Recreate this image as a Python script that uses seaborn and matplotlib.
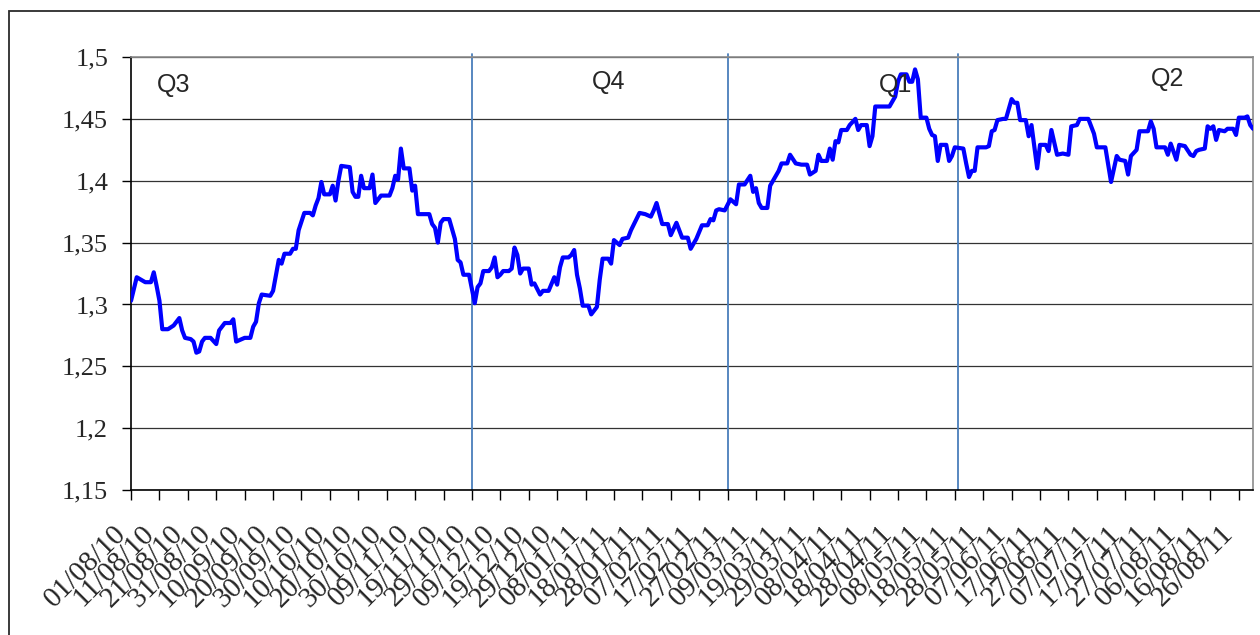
import matplotlib
matplotlib.use('Agg')
import matplotlib.pyplot as plt
import matplotlib.dates as mdates
import matplotlib.ticker as mticker
from matplotlib.patches import Rectangle
import numpy as np
import pandas as pd
import seaborn as sns

### day offsets from 01/08/10 and the rate
start = pd.Timestamp('2010-08-01')
days = [0, 2, 5, 7, 8, 9, 10, 11, 13, 15,
        17, 18, 19, 21, 22, 23, 24, 25, 26, 28,
        30, 31, 33, 35, 36, 37, 40, 42, 43, 44,
        45, 46, 49, 50, 52, 53, 54, 56, 57, 58,
        59, 61, 63, 64, 65, 66, 67, 68, 70, 71,
        72, 73, 74, 77, 78, 79, 80, 81, 82, 84,
        85, 86, 88, 91, 92, 93, 94, 95, 96, 98,
        99, 100, 101, 105, 106, 107, 108, 109, 110, 112,
        114, 115, 116, 117, 119, 121, 122, 123, 124, 126,
        127, 128, 129, 130, 131, 133, 134, 135, 136, 137,
        138, 140, 141, 142, 144, 145, 147, 149, 150, 151,
        152, 154, 155, 156, 157, 158, 159, 161, 162, 164,
        165, 166, 168, 169, 170, 172, 173, 175, 176, 179,
        181, 183, 184, 185, 187, 189, 190, 192, 194, 196,
        197, 198, 199, 201, 203, 204, 205, 206, 207, 209,
        211, 213, 214, 216, 218, 219, 220, 221, 222, 224,
        225, 226, 228, 229, 231, 232, 234, 236, 238, 239,
        241, 242, 243, 245, 246, 247, 248, 249, 250, 252,
        253, 255, 256, 257, 259, 260, 261, 262, 267, 269,
        270, 271, 273, 274, 275, 276, 277, 278, 280, 281,
        282, 283, 284, 285, 287, 288, 289, 290, 293, 294,
        295, 296, 297, 298, 301, 302, 303, 304, 305, 307,
        308, 310, 311, 312, 313, 315, 316, 317, 319, 320,
        322, 323, 324, 326, 328, 330, 331, 333, 334, 337,
        339, 340, 343, 345, 347, 348, 350, 351, 352, 354,
        355, 358, 359, 360, 361, 364, 365, 366, 368, 369,
        371, 373, 374, 375, 376, 378, 379, 380, 381, 382,
        383, 385, 386, 388, 389, 390, 392, 393, 394, 395]
rate = [1.303, 1.322, 1.318, 1.318, 1.326, 1.315, 1.303, 1.280, 1.280, 1.283,
        1.289, 1.279, 1.273, 1.272, 1.270, 1.261, 1.262, 1.270, 1.273, 1.273,
        1.268, 1.279, 1.285, 1.285, 1.288, 1.270, 1.273, 1.273, 1.282, 1.286,
        1.301, 1.308, 1.307, 1.311, 1.336, 1.333, 1.341, 1.341, 1.345, 1.345,
        1.360, 1.374, 1.374, 1.372, 1.380, 1.386, 1.399, 1.389, 1.389, 1.396,
        1.384, 1.400, 1.412, 1.411, 1.391, 1.387, 1.387, 1.404, 1.394, 1.394,
        1.405, 1.382, 1.388, 1.388, 1.394, 1.404, 1.401, 1.426, 1.410, 1.410,
        1.392, 1.396, 1.373, 1.373, 1.365, 1.362, 1.350, 1.366, 1.369, 1.369,
        1.353, 1.336, 1.334, 1.324, 1.324, 1.301, 1.314, 1.317, 1.327, 1.327,
        1.330, 1.338, 1.322, 1.324, 1.327, 1.327, 1.329, 1.346, 1.340, 1.325,
        1.329, 1.329, 1.316, 1.317, 1.308, 1.311, 1.311, 1.322, 1.316, 1.330,
        1.338, 1.338, 1.340, 1.344, 1.324, 1.313, 1.299, 1.299, 1.292, 1.298,
        1.320, 1.337, 1.337, 1.333, 1.352, 1.348, 1.353, 1.354, 1.360, 1.374,
        1.373, 1.371, 1.376, 1.382, 1.365, 1.365, 1.356, 1.366, 1.354, 1.354,
        1.345, 1.349, 1.353, 1.364, 1.364, 1.369, 1.368, 1.376, 1.377, 1.376,
        1.385, 1.381, 1.397, 1.397, 1.404, 1.391, 1.394, 1.382, 1.378, 1.378,
        1.396, 1.400, 1.408, 1.414, 1.414, 1.421, 1.414, 1.413, 1.413, 1.405,
        1.408, 1.421, 1.416, 1.416, 1.426, 1.417, 1.432, 1.431, 1.441, 1.441,
        1.445, 1.450, 1.441, 1.445, 1.445, 1.428, 1.436, 1.460, 1.460, 1.468,
        1.480, 1.486, 1.486, 1.480, 1.480, 1.490, 1.482, 1.451, 1.451, 1.442,
        1.437, 1.436, 1.416, 1.429, 1.429, 1.416, 1.420, 1.427, 1.426, 1.414,
        1.403, 1.408, 1.408, 1.427, 1.427, 1.428, 1.440, 1.441, 1.449, 1.450,
        1.450, 1.466, 1.463, 1.463, 1.449, 1.449, 1.436, 1.445, 1.410, 1.429,
        1.429, 1.424, 1.441, 1.421, 1.422, 1.421, 1.444, 1.445, 1.450, 1.450,
        1.438, 1.427, 1.427, 1.399, 1.420, 1.417, 1.416, 1.405, 1.420, 1.425,
        1.440, 1.440, 1.448, 1.442, 1.427, 1.427, 1.421, 1.430, 1.417, 1.429,
        1.428, 1.421, 1.420, 1.424, 1.425, 1.426, 1.444, 1.442, 1.444, 1.433,
        1.441, 1.440, 1.442, 1.442, 1.437, 1.451, 1.451, 1.452, 1.445, 1.442]

quarter_labels = ['Q3', 'Q4', 'Q1', 'Q2']
quarter_breaks = ['2010-11-29', '2011-02-27', '2011-05-19']
y_ticks = [1.15, 1.2, 1.25, 1.3, 1.35, 1.4, 1.45, 1.5]

df = pd.DataFrame({'date': start + pd.to_timedelta(days, unit='D'), 'rate': rate})

sns.set_style('white')
plt.rcParams['font.family'] = ['Liberation Serif', 'DejaVu Serif']

fig = plt.figure(figsize=(12.6, 6.35), dpi=100)
ax = fig.add_axes([0.104, 0.2283, 0.8905, 0.6819])

### outer frame of the chart object
fig.add_artist(Rectangle((9 / 1260, -0.1), 1.2, 1.0827, transform=fig.transFigure,
                         fill=False, ec='#2b2b2b', lw=1.3))

sns.lineplot(data=df, x='date', y='rate', ax=ax, color='#0000ff', lw=3,
             estimator=None, zorder=3)

for b in quarter_breaks:
    ax.axvline(pd.Timestamp(b), ymin=0, ymax=1.008, color='#4a7ebb', lw=1.3,
               clip_on=False, zorder=2)

### quarter labels, placed by hand
label_pos = [(15, 1.477), (168, 1.480), (269, 1.477), (365, 1.482)]
for lab, (d, v) in zip(quarter_labels, label_pos):
    ax.text(start + pd.Timedelta(days=d), v, lab, ha='center', va='center',
            fontsize=18, family=['Liberation Sans', 'DejaVu Sans'], zorder=4)

ax.set_xlim(start, start + pd.Timedelta(days=395))
ax.set_xticks(pd.date_range(start, '2011-08-26', freq='10D'))
ax.xaxis.set_major_formatter(mdates.DateFormatter('%d/%m/%y'))
plt.setp(ax.get_xticklabels(), rotation=45, ha='right')

ax.set_ylim(1.15, 1.5)
ax.set_yticks(y_ticks)
ax.yaxis.set_major_formatter(mticker.FuncFormatter(lambda v, p: f'{v:g}'.replace('.', ',')))

ax.tick_params(axis='x', bottom=True, direction='out', length=7, width=1,
               color='black', pad=15, labelsize=21)
ax.tick_params(axis='y', left=True, direction='out', length=6.5, width=1,
               color='black', pad=10, labelsize=19)
ax.set_xlabel('')
ax.set_ylabel('')

ax.yaxis.grid(True, color='#333333', lw=0.9)
ax.xaxis.grid(False)
ax.set_axisbelow(True)
for s in ['left', 'bottom']:
    ax.spines[s].set_color('black')
    ax.spines[s].set_linewidth(1.2)
for s in ['top', 'right']:
    ax.spines[s].set_color('#8c8c8c')
    ax.spines[s].set_linewidth(1.2)

fig.savefig('out.png', dpi=100)
